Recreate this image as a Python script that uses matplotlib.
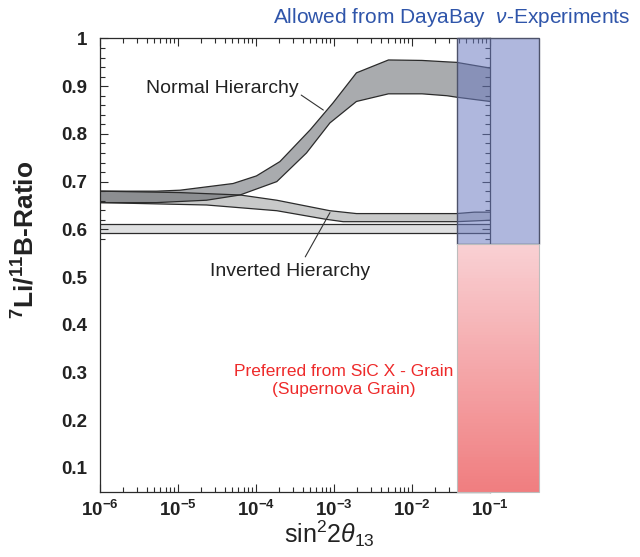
import numpy as np
import matplotlib
matplotlib.use("Agg")
import matplotlib.pyplot as plt
from matplotlib.patches import Rectangle
from matplotlib.colors import LinearSegmentedColormap
from matplotlib.ticker import FixedLocator, FixedFormatter, LogLocator, NullFormatter

plt.rcParams['font.family'] = ['Liberation Sans', 'DejaVu Sans']
plt.rcParams['mathtext.fontset'] = 'custom'
plt.rcParams['mathtext.rm'] = 'Liberation Sans'
plt.rcParams['mathtext.it'] = 'Liberation Sans:italic'
plt.rcParams['mathtext.bf'] = 'Liberation Sans:bold'

# band edges: log10(sin^2 2theta13) and 7Li/11B ratio
nh_upper_logx = [-6.0, -5.27, -4.97, -4.29, -3.99, -3.69, -3.30, -3.01, -2.71, -2.30, -1.87, -1.55, -1.43, -1.0]
nh_upper = [0.680, 0.680, 0.682, 0.696, 0.712, 0.742, 0.809, 0.865, 0.928, 0.955, 0.954, 0.951, 0.950, 0.938]
nh_lower_logx = [-6.0, -5.27, -4.63, -4.20, -3.73, -3.35, -3.05, -2.71, -2.30, -1.87, -1.55, -1.43, -1.0]
nh_lower = [0.656, 0.656, 0.661, 0.672, 0.700, 0.760, 0.823, 0.868, 0.884, 0.884, 0.880, 0.877, 0.868]

ih_upper_logx = [-6.0, -4.97, -4.20, -3.73, -3.05, -2.71, -1.43, -1.2, -1.0]
ih_upper = [0.680, 0.677, 0.672, 0.661, 0.639, 0.633, 0.633, 0.636, 0.636]
ih_lower_logx = [-6.0, -4.63, -3.73, -3.10, -2.88, -1.43, -1.0]
ih_lower = [0.656, 0.651, 0.639, 0.621, 0.616, 0.616, 0.619]

flat_band = [0.593, 0.612]          # horizontal grey band
x_range = [1e-6, 1e-1]
dayabay_x = [0.0375, 0.428]         # allowed sin^2 2theta13
sic_split = 0.57                    # boundary between blue and red regions
y_min, y_max = 0.05, 1.0

y_ticks = [0.1, 0.2, 0.3, 0.4, 0.5, 0.6, 0.7, 0.8, 0.9, 1.0]
y_ticklabels = ['0.1', '0.2', '0.3', '0.4', '0.5', '0.6', '0.7', '0.8', '0.9', '1']
x_ticks = [1e-6, 1e-5, 1e-4, 1e-3, 1e-2, 1e-1]
x_ticklabels = [r'10$^{\mathbf{-6}}$', r'10$^{\mathbf{-5}}$', r'10$^{\mathbf{-4}}$',
                r'10$^{\mathbf{-3}}$', r'10$^{\mathbf{-2}}$', r'10$^{\mathbf{-1}}$']

fig = plt.figure(figsize=(6.4, 5.57), dpi=100)
ax = fig.add_axes([0.1555, 0.1172, 0.6101, 0.8137])
ax.set_xscale('log')
ax.set_xlim(x_range)
ax.set_ylim(y_min, y_max)

edge = '#2b2b2b'

# flat band
ax.fill_between(x_range, flat_band[0], flat_band[1], color='#dfe0e1', lw=0, zorder=1)
ax.plot(x_range, [flat_band[0]] * 2, color=edge, lw=0.9, zorder=1.5)
ax.plot(x_range, [flat_band[1]] * 2, color=edge, lw=0.9, zorder=1.5)

# normal hierarchy
nhx_up = 10 ** np.array(nh_upper_logx)
nhx_lo = 10 ** np.array(nh_lower_logx)
ax.fill(np.r_[nhx_up, nhx_lo[::-1]], np.r_[nh_upper, nh_lower[::-1]],
        color='#a9abae', lw=0, zorder=1.2)
ax.plot(nhx_up, nh_upper, color=edge, lw=0.9, zorder=1.6)
ax.plot(nhx_lo, nh_lower, color=edge, lw=0.9, zorder=1.6)

# inverted hierarchy
ihx_up = 10 ** np.array(ih_upper_logx)
ihx_lo = 10 ** np.array(ih_lower_logx)
ax.fill(np.r_[ihx_up, ihx_lo[::-1]], np.r_[ih_upper, ih_lower[::-1]],
        color=(0.29, 0.30, 0.31), alpha=0.3, lw=0, zorder=1.3)
ax.plot(ihx_up, ih_upper, color=edge, lw=0.9, zorder=1.6)
ax.plot(ihx_lo, ih_lower, color=edge, lw=0.9, zorder=1.6)

# Daya Bay allowed region (blue) and SiC X-grain region (red gradient)
blue = Rectangle((dayabay_x[0], sic_split), dayabay_x[1] - dayabay_x[0], y_max - sic_split,
                 facecolor=(109 / 255, 125 / 255, 193 / 255, 0.55), edgecolor='#4d526a',
                 lw=1.0, clip_on=False, zorder=3)
ax.add_patch(blue)

red_cmap = LinearSegmentedColormap.from_list('sic', ['#f07e80', '#f9d0d3'])
yy = np.linspace(y_min, sic_split, 80)
grad = ax.pcolormesh(dayabay_x, yy, yy[:-1].reshape(-1, 1), cmap=red_cmap,
                     shading='flat', zorder=3.2)
grad.set_clip_on(False)
ax.add_patch(Rectangle((dayabay_x[0], y_min), dayabay_x[1] - dayabay_x[0], sic_split - y_min,
                       fill=False, edgecolor='#bdbdbd', lw=0.8, clip_on=False, zorder=3.3))

# ticks
ax.xaxis.set_major_locator(FixedLocator(x_ticks))
ax.xaxis.set_major_formatter(FixedFormatter(x_ticklabels))
ax.xaxis.set_minor_locator(LogLocator(base=10, subs=np.arange(2, 10), numticks=20))
ax.xaxis.set_minor_formatter(NullFormatter())
ax.yaxis.set_major_locator(FixedLocator(y_ticks))
ax.yaxis.set_major_formatter(FixedFormatter(y_ticklabels))
ax.yaxis.set_minor_locator(FixedLocator([v for v in np.arange(0.58, 0.995, 0.02)
                                         if abs(v * 10 - round(v * 10)) > 1e-6]))
ax.tick_params(which='both', direction='in', top=True, right=True, color=edge, width=0.8)
ax.tick_params(which='major', length=6, labelsize=13.5)
ax.tick_params(axis='x', which='major', pad=6)
ax.tick_params(axis='y', which='major', pad=9)
ax.tick_params(which='minor', length=3.5)
for t in ax.get_xticklabels() + ax.get_yticklabels():
    t.set_fontweight('bold')
    t.set_color('#222222')
for tick in ax.yaxis.get_major_ticks():
    if tick.get_loc() < 0.55:
        tick.tick1line.set_visible(False)
        tick.tick2line.set_visible(False)
for s in ax.spines.values():
    s.set_color(edge)
    s.set_linewidth(0.9)

# annotations
ax.annotate('Normal Hierarchy', xy=(10 ** -3.134, 0.850), xytext=(10 ** -4.43, 0.896),
            ha='center', va='center', fontsize=14, color='#222222',
            arrowprops=dict(arrowstyle='-', color='#333333', lw=0.8, shrinkA=0, shrinkB=0,
                            relpos=(1.0, 0.2)))
ax.annotate('Inverted Hierarchy', xy=(10 ** -3.049, 0.635), xytext=(10 ** -3.555, 0.511),
            ha='center', va='center', fontsize=14, color='#222222',
            arrowprops=dict(arrowstyle='-', color='#333333', lw=0.8, shrinkA=3, shrinkB=0,
                            relpos=(0.57, 1.0)))
ax.text(10 ** -2.87, 0.284, 'Preferred from SiC X - Grain\n(Supernova Grain)',
        ha='center', va='center', fontsize=12.5, color='#ee2a2a', linespacing=1.25)

fig.text(0.705, 0.968, r'Allowed from DayaBay  $\nu$-Experiments', ha='center', va='center',
         fontsize=15, color='#2f55aa')
fig.text(0.04, 0.569, r'$^{\mathbf{7}}$Li/$^{\mathbf{11}}$B-Ratio', rotation=90, ha='center',
         va='center', fontsize=19, fontweight='bold', color='#222222')
fig.text(0.515, 0.042, r'sin$^2$2$\theta_{13}$', ha='center', va='center', fontsize=18,
         color='#222222')

fig.savefig('out.png', dpi=100)
